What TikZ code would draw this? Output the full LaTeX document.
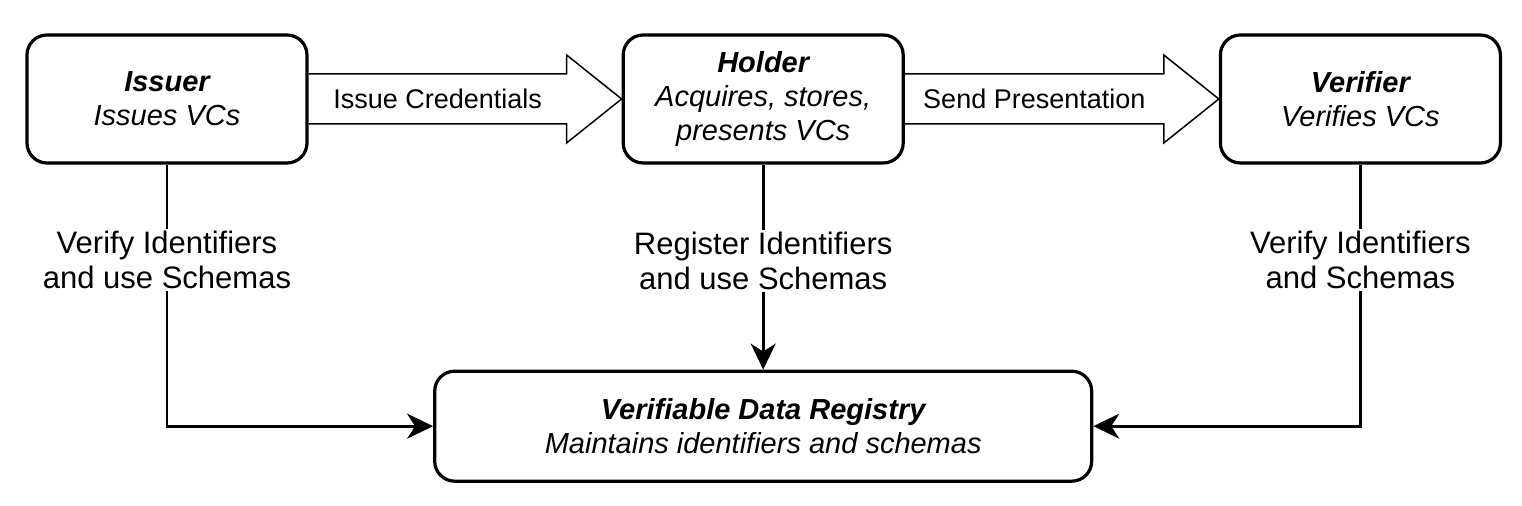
\documentclass[tikz,border=0pt]{standalone}
\usepackage{fontspec}
\setmainfont{Liberation Sans}
\usetikzlibrary{positioning,arrows.meta,calc}

\tikzset{
  actor/.style={draw, line width=1.6pt, rounded corners=10pt, fill=white,
    minimum width=140pt, minimum height=64pt, align=center, inner sep=0pt,
    font=\fontsize{14.5}{17}\selectfont\itshape},
  flow/.style={draw, line width=0.75pt},
  flowtext/.style={font=\fontsize{13.5}{16}\selectfont},
  link/.style={line width=1.35pt, -{Stealth[length=13pt,width=12.5pt,inset=4pt]}},
  tag/.style={fill=white, align=center, inner sep=1pt, font=\fontsize{15.5}{17.5}\selectfont}
}

\begin{document}
\begin{tikzpicture}[x=0.5pt,y=-0.5pt]
    \useasboundingbox (0,0) rectangle (1522,506);

    \node[actor] (I) at (167,99) {\textbf{Issuer}\\Issues VCs};
    \node[actor] (H) [right=156.5pt of I] {\textbf{Holder}\\Acquires, stores,\\presents VCs};
    \node[actor] (V) [right=157pt of H] {\textbf{Verifier}\\Verifies VCs};
    \node[actor, minimum width=328.5pt, minimum height=55pt] (R) [below=102.5pt of H]
        {\textbf{Verifiable Data Registry}\\Maintains identifiers and schemas};

    % block arrows
    \draw[flow] ($(I.east)+(0,-25)$) -- ($(H.west)+(-55,-25)$) -- ($(H.west)+(-55,-44)$)
        -- (H.west) -- ($(H.west)+(-55,44)$) -- ($(H.west)+(-55,25)$) -- ($(I.east)+(0,25)$);
    \node[flowtext, xshift=-13.75pt] (IC) at ($(I.east)!0.5!(H.west)$) {Issue Credentials};
    %
    \draw[flow] ($(H.east)+(0,-25)$) -- ($(V.west)+(-55,-25)$) -- ($(V.west)+(-55,-44)$)
        -- (V.west) -- ($(V.west)+(-55,44)$) -- ($(V.west)+(-55,25)$) -- ($(H.east)+(0,25)$);
    \node[flowtext, xshift=-13.75pt] (SP) at ($(H.east)!0.5!(V.west)$) {Send Presentation};

    % registry links
    \draw[link] (I.south) |- node[tag, pos=0.183] {Verify Identifiers\\and use Schemas} (R.west);
    \draw[link] (H.south) -- node[tag, pos=0.47] {Register Identifiers\\and use Schemas} (R.north);
    \draw[link] (V.south) |- node[tag, pos=0.183] {Verify Identifiers\\and Schemas} (R.east);
\end{tikzpicture}
\end{document}
